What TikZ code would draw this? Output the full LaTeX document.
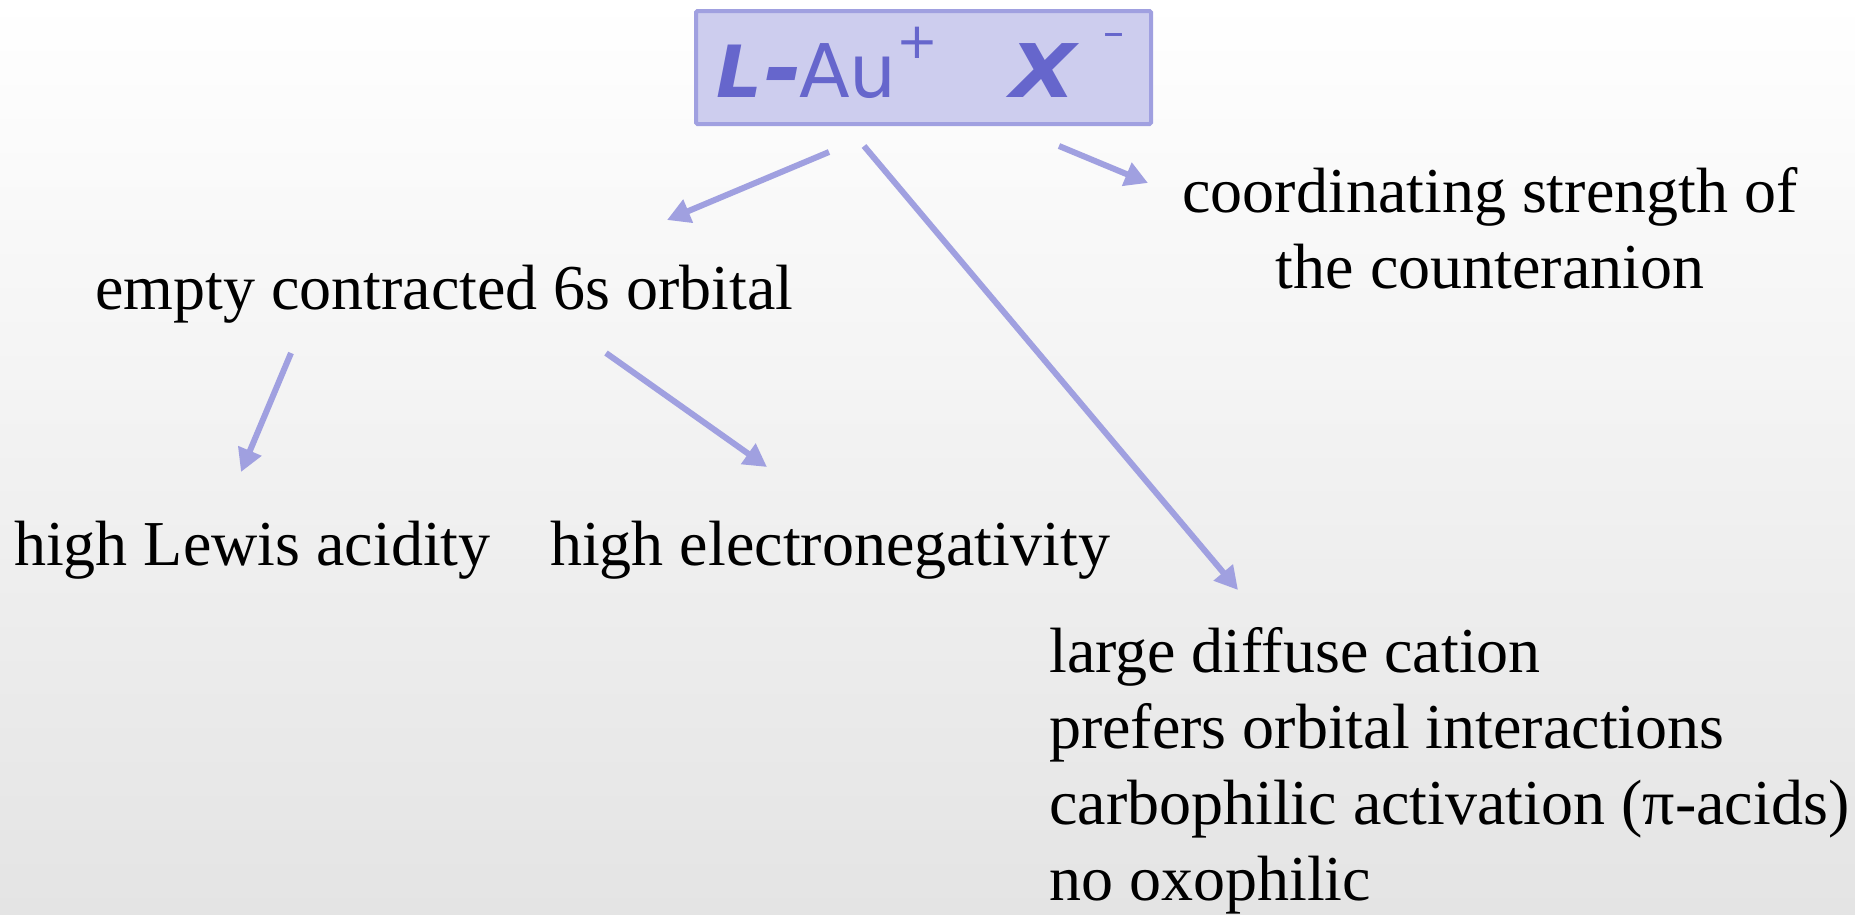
\documentclass[tikz,border=0pt]{standalone}
\usepackage{fontspec}
\setmainfont{Liberation Serif}
\newfontfamily\boxfont{DejaVu Sans}
\usetikzlibrary{arrows.meta}
\definecolor{arrowcol}{RGB}{160,160,224}
\definecolor{boxfill}{RGB}{205,205,238}
\definecolor{boxtext}{RGB}{102,102,204}
\definecolor{bgbottom}{RGB}{228,228,228}
\tikzset{
  conn/.style={draw=arrowcol, line width=6pt, -{Triangle[length=23pt,width=24pt]}},
  txt/.style={inner sep=0pt, font=\fontsize{64}{76}\selectfont},
  boxtxt/.style={inner sep=0pt, text=boxtext, font=\boxfont\fontsize{70}{70}\selectfont},
}
\begin{document}
\begin{tikzpicture}[x=1pt,y=-1pt]
\shade[top color=white, bottom color=bgbottom] (0,0) rectangle (1855,914);
\useasboundingbox (0,0) rectangle (1855,914);
% top box
\node[draw=arrowcol, fill=boxfill, line width=4pt, rounded corners=1.5pt,
      minimum width=455pt, minimum height=113pt, inner sep=0pt] (box) at (923.5,67.5) {};
\node[boxtxt, anchor=base west, font=\boxfont\bfseries\itshape\fontsize{72}{72}\selectfont] (L) at (716,97) {L};
\node[boxtxt, anchor=base west, font=\boxfont\bfseries\itshape\fontsize{92}{92}\selectfont] (hy) at (764,100) {-};
\node[boxtxt, anchor=base west, font=\boxfont\fontsize{74}{74}\selectfont] (Au) at (799,97) {Au};
\node[boxtxt, anchor=base west, font=\boxfont\fontsize{50}{50}\selectfont] (plus) at (896,58) {+};
\node[boxtxt, anchor=base west, font=\boxfont\bfseries\itshape\fontsize{74}{74}\selectfont] (X) at (1010,97) {\scalebox{1.15}[1]{X}};
\node[boxtxt, anchor=base west, font=\boxfont\fontsize{42}{42}\selectfont] (minus) at (1103,46) {–};
% texts
\node[txt, anchor=base, align=center] (counter) at (1490,288)
  {coordinating strength of\\the counteranion};
\node[txt, anchor=base west] (orbital) at (95,309) {empty contracted 6s orbital};
\node[txt, anchor=base west] (lewis) at (14,565) {high Lewis acidity};
\node[txt, anchor=base west] (electro) at (550,565) {high electronegativity};
\node[txt, anchor=base west, align=left] (cation) at (1049,900)
  {large diffuse cation\\prefers orbital interactions\\carbophilic activation (π-acids)\\no oxophilic};
% connector ends
\coordinate (s1) at (829,152); \coordinate (e1) at (667,220);
\coordinate (s2) at (864,146); \coordinate (e2) at (1238,590);
\coordinate (s3) at (1059,146); \coordinate (e3) at (1148,183);
\coordinate (s4) at (291,353); \coordinate (e4) at (241,472);
\coordinate (s5) at (606,353); \coordinate (e5) at (767,467);
\draw[conn] (s1) -- (e1);
\draw[conn] (s2) -- (e2);
\draw[conn] (s3) -- (e3);
\draw[conn] (s4) -- (e4);
\draw[conn] (s5) -- (e5);
\end{tikzpicture}
\end{document}
